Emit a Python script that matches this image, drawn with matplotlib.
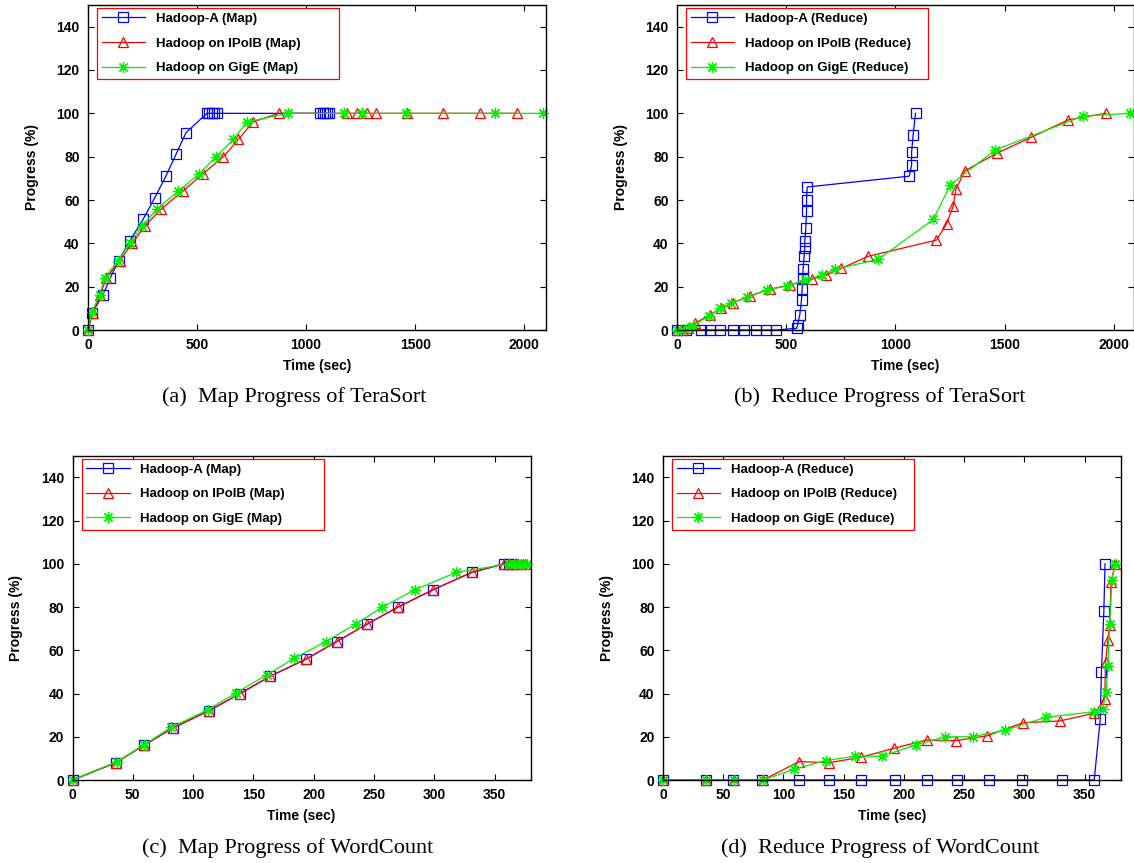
import matplotlib
matplotlib.use("Agg")
import matplotlib.pyplot as plt

plt.rcParams["font.family"] = ["Liberation Sans", "DejaVu Sans"]
plt.rcParams["font.weight"] = "bold"
plt.rcParams["axes.labelweight"] = "bold"

# -----------------------------------------------------------------------
# (a) Map progress of TeraSort
# -----------------------------------------------------------------------
ts_map_a_x = [0, 19, 68, 102, 140, 191, 252, 306, 357, 403, 449,
              545, 557, 568, 580, 592, 1066, 1076, 1086, 1096, 1103]
ts_map_a_y = [0, 8, 16, 24, 32, 41, 51, 61, 71, 81, 91,
              100, 100, 100, 100, 100, 100, 100, 100, 100, 100]
ts_map_ipoib_x = [0, 22, 56, 84, 145, 203, 260, 337, 434, 526, 621, 690, 756, 874,
                  1189, 1235, 1278, 1319, 1462, 1626, 1798, 1967]
ts_map_ipoib_y = [0, 8, 16, 24, 32, 40, 48, 56, 64, 72, 80, 88, 96, 100,
                  100, 100, 100, 100, 100, 100, 100, 100]
ts_map_gige_x = [0, 19, 53, 76, 137, 191, 248, 317, 413, 510, 587, 667, 728, 915,
                 1173, 1255, 1457, 1864, 2087]
ts_map_gige_y = [0, 8.5, 16, 24, 32, 40, 48, 56, 64, 72, 80, 88, 96, 100,
                 100, 100, 100, 100, 100]

# -----------------------------------------------------------------------
# (b) Reduce progress of TeraSort
# -----------------------------------------------------------------------
ts_red_a_x = [0, 43, 112, 150, 199, 257, 306, 361, 406, 455, 548, 552, 562, 570, 573,
              577, 577, 582, 585, 585, 590, 593, 593, 596, 1063, 1074, 1074, 1081, 1092]
ts_red_a_y = [0, 0, 0, 0, 0, 0, 0, 0, 0, 0, 0.8, 2.3, 7, 14, 19,
              24, 28, 34, 38, 41, 47, 55, 60, 66, 71, 76, 82, 90, 100]
ts_red_ipoib_x = [0, 27, 50, 81, 150, 203, 257, 333, 424, 516, 616, 681, 753, 875,
                  1188, 1234, 1264, 1277, 1318, 1463, 1623, 1791, 1964]
ts_red_ipoib_y = [0, 0, 1, 3, 7, 10, 12.6, 15.7, 18.8, 20.8, 23.4, 25.4, 28.5, 34,
                  41.5, 49, 57, 65, 73.5, 81.5, 89, 97, 100]
ts_red_gige_x = [0, 20, 50, 73, 147, 196, 249, 321, 410, 504, 585, 666, 722, 921,
                 1173, 1252, 1455, 1860, 2073]
ts_red_gige_y = [0, 0, 1, 2, 6.5, 10, 12.3, 15, 18.5, 20.3, 23, 25.4, 28, 32.6,
                 51, 67, 83, 98.8, 100]

# -----------------------------------------------------------------------
# (c) Map progress of WordCount
# -----------------------------------------------------------------------
wc_map_a_x = [0, 36, 59, 83, 113, 139, 164, 194, 219, 244, 270, 299, 331, 358, 362, 365]
wc_map_a_y = [0, 8, 16, 24, 32, 40, 48, 56, 64, 72, 80, 88, 96, 100, 100, 100]
wc_map_ipoib_x = [0, 36, 59, 83, 113, 139, 164, 194, 219, 244, 270, 299, 331,
                  358, 362, 366, 369, 372, 375]
wc_map_ipoib_y = [0, 8, 16, 24, 32, 40, 48, 56, 64, 72, 80, 88, 96,
                  100, 100, 100, 100, 100, 100]
wc_map_gige_x = [0, 37, 59, 82, 112, 136, 161, 184, 210, 235, 257, 284, 318,
                 362, 366, 369, 372, 374, 377]
wc_map_gige_y = [0, 8.5, 16.2, 24.4, 32.4, 40.4, 48.6, 56.3, 64, 72.2, 80, 88, 96,
                 100, 100, 100, 100, 100, 100]

# -----------------------------------------------------------------------
# (d) Reduce progress of WordCount
# -----------------------------------------------------------------------
wc_red_a_x = [0, 36, 58, 82, 113, 138, 164, 193, 219, 244, 271, 298, 331, 358,
              363, 364, 366, 367]
wc_red_a_y = [0, 0, 0, 0, 0, 0, 0, 0, 0, 0, 0, 0, 0, 0,
              28, 50, 78, 100]
wc_red_ipoib_x = [0, 36, 59, 83, 113, 138, 164, 192, 219, 243, 269, 299, 329.5, 358,
                  366.7, 367.5, 369.4, 370.8, 372, 375.5]
wc_red_ipoib_y = [0, 0, 0, 0, 8.5, 8, 10.5, 14.7, 18.5, 18.2, 20.4, 26.5, 27.3, 30.9,
                  37.3, 54.8, 64.8, 71.8, 91.8, 100]
wc_red_gige_x = [0, 36, 59, 83, 109, 135, 159.5, 182, 209.7, 234, 257, 284, 317.6, 358,
                 365, 368, 369.4, 370.8, 372.7, 375.5]
wc_red_gige_y = [0, 0, 0, 0, 5, 9, 11, 11, 16.2, 20, 20, 23, 29, 31.6,
                 32.7, 40.9, 52.8, 72, 92.3, 100]

y_ticks = [0, 20, 40, 60, 80, 100, 120, 140]
ts_ticks = [0, 500, 1000, 1500, 2000]
wc_ticks = [0, 50, 100, 150, 200, 250, 300, 350]

W, H = 1134, 863


def rect(l, t, r, b):
    return [l / W, 1 - b / H, (r - l) / W, (b - t) / H]


def draw_panel(ax, series, phase, xlim, xticks):
    styles = [
        ("Hadoop-A", "#0000ff", "s", 7.0),
        ("Hadoop on IPoIB", "#ff0000", "^", 7.0),
        ("Hadoop on GigE", "#00ee00", (8, 2, 0), 8.0),
    ]
    for (xs, ys), (name, col, mk, ms) in zip(series, styles):
        ax.plot(xs, ys, color=col, lw=0.9, marker=mk, ms=ms, mfc="none",
                mec=col, mew=0.9, clip_on=False, label=f"{name} ({phase})")
    ax.set_xlim(*xlim)
    ax.set_ylim(0, 150)
    ax.set_xticks(xticks)
    ax.set_yticks(y_ticks)
    ax.tick_params(direction="in", top=True, right=True, length=4, width=0.8,
                   pad=6, labelsize=10)
    for lab in ax.get_xticklabels() + ax.get_yticklabels():
        lab.set_fontweight("bold")
    for s in ax.spines.values():
        s.set_linewidth(1.0)
    ax.set_xlabel("Time (sec)", fontsize=10, fontweight="bold")
    ax.set_ylabel("Progress (%)", fontsize=10, fontweight="bold")
    ax.xaxis.set_label_coords(0.5, -0.09)
    ax.yaxis.set_label_coords(-0.108, 0.5)
    w_px = ax.get_position().width * W
    h_px = ax.get_position().height * H
    leg = ax.legend(loc="upper left", mode="expand",
                    bbox_to_anchor=(9 / w_px, 1 - 75 / h_px, 242 / w_px, 72 / h_px),
                    borderaxespad=0, fontsize=9.5, numpoints=1, handlelength=3.3,
                    handletextpad=0.8, labelspacing=0.95, borderpad=0.35,
                    fancybox=False, framealpha=1)
    leg.get_frame().set_edgecolor("#ff0000")
    leg.get_frame().set_linewidth(0.9)


fig = plt.figure(figsize=(W / 100, H / 100), dpi=100)

ax_a = fig.add_axes(rect(88, 5, 546, 330))
draw_panel(ax_a, [(ts_map_a_x, ts_map_a_y), (ts_map_ipoib_x, ts_map_ipoib_y),
                  (ts_map_gige_x, ts_map_gige_y)], "Map", (0, 2100), ts_ticks)

ax_b = fig.add_axes(rect(677, 5, 1133.5, 330))
draw_panel(ax_b, [(ts_red_a_x, ts_red_a_y), (ts_red_ipoib_x, ts_red_ipoib_y),
                  (ts_red_gige_x, ts_red_gige_y)], "Reduce", (0, 2090), ts_ticks)

ax_c = fig.add_axes(rect(72.5, 455.7, 530.7, 780))
draw_panel(ax_c, [(wc_map_a_x, wc_map_a_y), (wc_map_ipoib_x, wc_map_ipoib_y),
                  (wc_map_gige_x, wc_map_gige_y)], "Map", (0, 380), wc_ticks)

ax_d = fig.add_axes(rect(663, 455.7, 1120.7, 780))
draw_panel(ax_d, [(wc_red_a_x, wc_red_a_y), (wc_red_ipoib_x, wc_red_ipoib_y),
                  (wc_red_gige_x, wc_red_gige_y)], "Reduce", (0, 380), wc_ticks)

captions = [
    (294, 397, "(a)  Map Progress of TeraSort"),
    (880, 397, "(b)  Reduce Progress of TeraSort"),
    (288, 848, "(c)  Map Progress of WordCount"),
    (880, 848, "(d)  Reduce Progress of WordCount"),
]
for cx, cy, txt in captions:
    fig.text(cx / W, 1 - cy / H, txt, ha="center", va="center",
             family=["Liberation Serif", "DejaVu Serif"], fontweight="normal",
             fontsize=16)

fig.savefig("out.png", dpi=100)
